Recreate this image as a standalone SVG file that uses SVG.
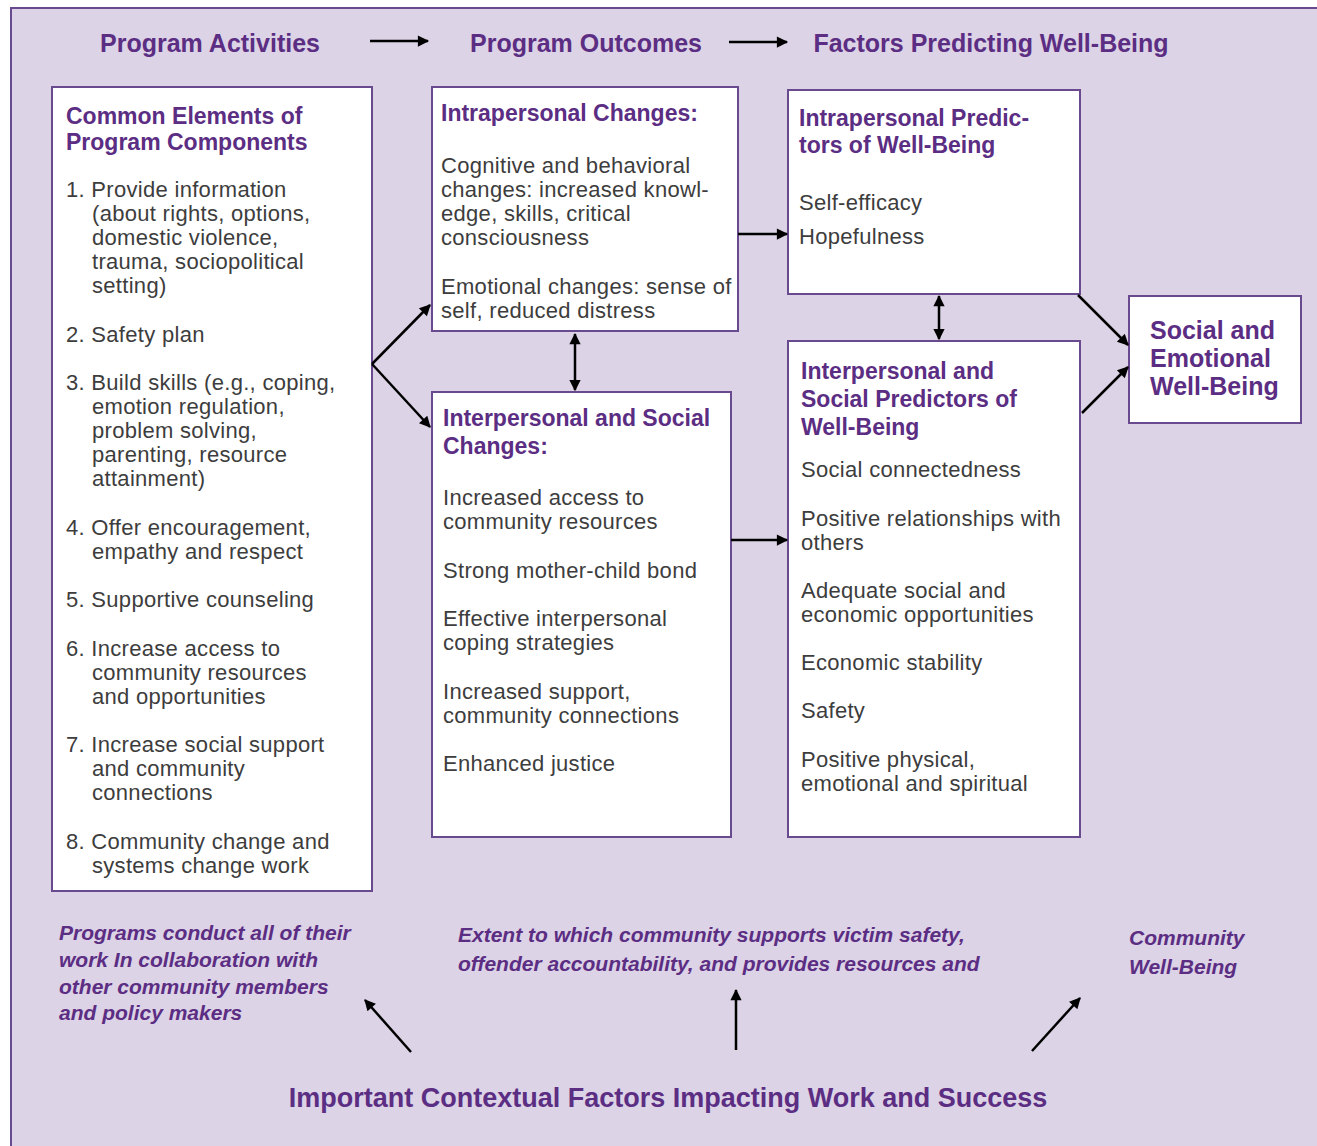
<svg xmlns="http://www.w3.org/2000/svg" width="1317" height="1146" viewBox="0 0 1317 1146">
<defs>
<marker id="ah" viewBox="0 0 10 10" refX="9" refY="5" markerWidth="5.5" markerHeight="4.5" orient="auto-start-reverse" markerUnits="strokeWidth">
<path d="M0,0 L10,5 L0,10 z" fill="#000"/>
</marker>
<style>
text{font-family:"Liberation Sans","Noto Sans",sans-serif}
.hd{font-size:25px;font-weight:bold;fill:#5b2d83}
.tt{font-size:23px;font-weight:bold;fill:#5b2d83}
.bd{font-size:22px;letter-spacing:0.3px;fill:#3d3d3d}
.it{font-size:21px;font-weight:bold;font-style:italic;fill:#5b2d83}
.box{fill:#fff;stroke:#6a4a8e;stroke-width:2}
.ln{stroke:#000;stroke-width:2.5;fill:none;marker-end:url(#ah)}
.dl{stroke:#000;stroke-width:2.5;fill:none;marker-end:url(#ah);marker-start:url(#ah)}
</style>
</defs>
<rect x="11" y="8" width="1320" height="1150" fill="#dcd3e6" stroke="#6a4a8e" stroke-width="2"/>

<g id="headers">
<text class="hd" x="210" y="52" text-anchor="middle">Program Activities</text>
<text class="hd" x="586" y="52" text-anchor="middle">Program Outcomes</text>
<text class="hd" x="991" y="52" text-anchor="middle">Factors Predicting Well-Being</text>
</g>

<g id="node-common-elements">
<rect class="box" x="52" y="87" width="320" height="804"/>
<text class="tt" x="66" y="124">Common Elements of</text>
<text class="tt" x="66" y="150">Program Components</text>
<text class="bd" x="66" y="197">1. Provide information</text>
<text class="bd" x="92" y="221">(about rights, options,</text>
<text class="bd" x="92" y="245">domestic violence,</text>
<text class="bd" x="92" y="269">trauma, sociopolitical</text>
<text class="bd" x="92" y="293">setting)</text>
<text class="bd" x="66" y="342">2. Safety plan</text>
<text class="bd" x="66" y="390">3. Build skills (e.g., coping,</text>
<text class="bd" x="92" y="414">emotion regulation,</text>
<text class="bd" x="92" y="438">problem solving,</text>
<text class="bd" x="92" y="462">parenting, resource</text>
<text class="bd" x="92" y="486">attainment)</text>
<text class="bd" x="66" y="535">4. Offer encouragement,</text>
<text class="bd" x="92" y="559">empathy and respect</text>
<text class="bd" x="66" y="607">5. Supportive counseling</text>
<text class="bd" x="66" y="656">6. Increase access to</text>
<text class="bd" x="92" y="680">community resources</text>
<text class="bd" x="92" y="704">and opportunities</text>
<text class="bd" x="66" y="752">7. Increase social support</text>
<text class="bd" x="92" y="776">and community</text>
<text class="bd" x="92" y="800">connections</text>
<text class="bd" x="66" y="849">8. Community change and</text>
<text class="bd" x="92" y="873">systems change work</text>
</g>

<g id="node-intrapersonal-changes">
<rect class="box" x="432" y="87" width="306" height="244"/>
<text class="tt" x="441" y="121">Intrapersonal Changes:</text>
<text class="bd" x="441" y="173">Cognitive and behavioral</text>
<text class="bd" x="441" y="197">changes: increased knowl-</text>
<text class="bd" x="441" y="221">edge, skills, critical</text>
<text class="bd" x="441" y="245">consciousness</text>
<text class="bd" x="441" y="294">Emotional changes: sense of</text>
<text class="bd" x="441" y="318">self, reduced distress</text>
</g>

<g id="node-interpersonal-changes">
<rect class="box" x="432" y="392" width="299" height="445"/>
<text class="tt" x="443" y="426">Interpersonal and Social</text>
<text class="tt" x="443" y="454">Changes:</text>
<text class="bd" x="443" y="505">Increased access to</text>
<text class="bd" x="443" y="529">community resources</text>
<text class="bd" x="443" y="578">Strong mother-child bond</text>
<text class="bd" x="443" y="626">Effective interpersonal</text>
<text class="bd" x="443" y="650">coping strategies</text>
<text class="bd" x="443" y="699">Increased support,</text>
<text class="bd" x="443" y="723">community connections</text>
<text class="bd" x="443" y="771">Enhanced justice</text>
</g>

<g id="node-intrapersonal-predictors">
<rect class="box" x="788" y="90" width="292" height="204"/>
<text class="tt" x="799" y="126">Intrapersonal Predic-</text>
<text class="tt" x="799" y="153">tors of Well-Being</text>
<text class="bd" x="799" y="210">Self-efficacy</text>
<text class="bd" x="799" y="244">Hopefulness</text>
</g>

<g id="node-interpersonal-predictors">
<rect class="box" x="788" y="341" width="292" height="496"/>
<text class="tt" x="801" y="379">Interpersonal and</text>
<text class="tt" x="801" y="407">Social Predictors of</text>
<text class="tt" x="801" y="435">Well-Being</text>
<text class="bd" x="801" y="477">Social connectedness</text>
<text class="bd" x="801" y="526">Positive relationships with</text>
<text class="bd" x="801" y="550">others</text>
<text class="bd" x="801" y="598">Adequate social and</text>
<text class="bd" x="801" y="622">economic opportunities</text>
<text class="bd" x="801" y="670">Economic stability</text>
<text class="bd" x="801" y="718">Safety</text>
<text class="bd" x="801" y="767">Positive physical,</text>
<text class="bd" x="801" y="791">emotional and spiritual</text>
</g>

<g id="node-wellbeing">
<rect class="box" x="1129" y="296" width="172" height="127"/>
<text class="tt" x="1150" y="339" style="font-size:25px">Social and</text>
<text class="tt" x="1150" y="367" style="font-size:25px">Emotional</text>
<text class="tt" x="1150" y="395" style="font-size:25px">Well-Being</text>
</g>

<g id="node-context-notes">
<text class="it" x="59" y="940">Programs conduct all of their</text>
<text class="it" x="59" y="967">work In collaboration with</text>
<text class="it" x="59" y="994">other community members</text>
<text class="it" x="59" y="1020">and policy makers</text>
<text class="it" x="458" y="942">Extent to which community supports victim safety,</text>
<text class="it" x="458" y="971">offender accountability, and provides resources and</text>
<text class="it" x="1129" y="945">Community</text>
<text class="it" x="1129" y="974">Well-Being</text>
<text class="hd" x="668" y="1107" text-anchor="middle" style="font-size:27px">Important Contextual Factors Impacting Work and Success</text>
</g>

<g id="connectors">
<line class="ln" x1="370" y1="41" x2="428" y2="41"/>
<line class="ln" x1="729" y1="42" x2="787" y2="42"/>
<line class="ln" x1="372" y1="364" x2="430" y2="305"/>
<line class="ln" x1="372" y1="364" x2="430" y2="427"/>
<line class="dl" x1="575" y1="334" x2="575" y2="390"/>
<line class="ln" x1="738" y1="234" x2="787" y2="234"/>
<line class="ln" x1="731" y1="540" x2="787" y2="540"/>
<line class="dl" x1="939" y1="296" x2="939" y2="339"/>
<line class="ln" x1="1078" y1="295" x2="1128" y2="345"/>
<line class="ln" x1="1082" y1="413" x2="1128" y2="367"/>
<line class="ln" x1="411" y1="1052" x2="365" y2="1000"/>
<line class="ln" x1="736" y1="1050" x2="736" y2="990"/>
<line class="ln" x1="1032" y1="1051" x2="1080" y2="998"/>
</g>
</svg>
